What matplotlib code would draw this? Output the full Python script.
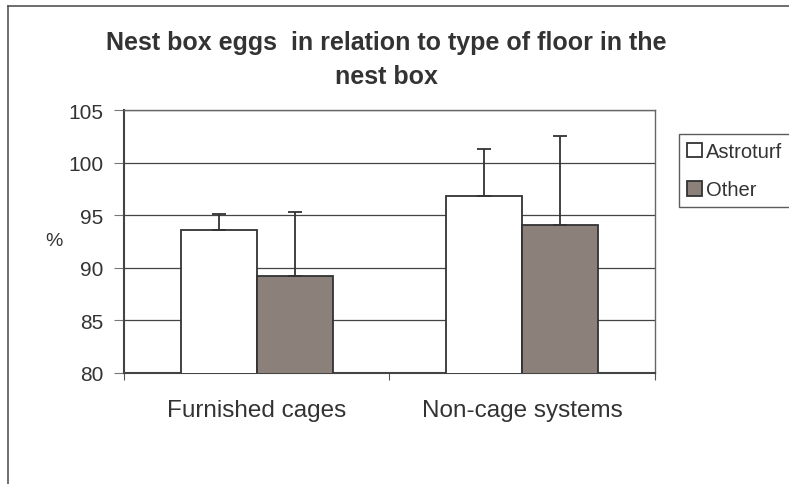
import numpy as np
import matplotlib
matplotlib.use("Agg")
import matplotlib.pyplot as plt
from matplotlib.lines import Line2D

categories = ["Furnished cages", "Non-cage systems"]
astroturf = [93.6, 96.8]
astroturf_err = [1.5, 4.5]
other = [89.2, 94.1]
other_err = [6.1, 8.4]

plt.rcParams["font.family"] = ["Liberation Sans", "DejaVu Sans"]

fig = plt.figure(figsize=(7.89, 4.85), dpi=100)
ax = fig.add_axes([0.157, 0.229, 0.673, 0.542])

# chart border (cropped on right and bottom)
fig.add_artist(Line2D([8 / 789, 8 / 789], [0, 1 - 7 / 485], transform=fig.transFigure,
                      color="#555555", lw=1.2))
fig.add_artist(Line2D([8 / 789, 1], [1 - 7 / 485, 1 - 7 / 485], transform=fig.transFigure,
                      color="#555555", lw=1.2))

x = np.arange(len(categories))
w = 0.286
edge = "#333333"

ax.bar(x - w / 2, astroturf, w, color="white", edgecolor=edge, lw=1.3,
       label="Astroturf", zorder=3)
ax.bar(x + w / 2, other, w, color="#8c807b", edgecolor=edge, lw=1.3,
       label="Other", zorder=3)

ax.errorbar(x - w / 2, astroturf, yerr=[np.zeros(2), astroturf_err], fmt="none",
            ecolor=edge, elinewidth=1.3, capsize=4.7, capthick=1.3, zorder=4)
ax.errorbar(x + w / 2, other, yerr=[np.zeros(2), other_err], fmt="none",
            ecolor=edge, elinewidth=1.3, capsize=4.7, capthick=1.3, zorder=4)

ax.set_ylim(80, 105)
ax.set_xlim(-0.5, 1.5)
ax.set_yticks([80, 85, 90, 95, 100, 105])
ax.yaxis.grid(True, color="#444444", lw=0.9, zorder=0)
ax.set_axisbelow(True)

ax.set_xticks([-0.5, 0.5, 1.5])
ax.set_xticklabels([])
ax.set_xticks(x, minor=True)
ax.set_xticklabels(categories, minor=True, fontsize=17.5, color="#333333")
ax.tick_params(axis="x", which="minor", length=0, pad=19)
ax.tick_params(axis="x", which="major", length=5, color="#555555", direction="out")
ax.tick_params(axis="y", length=7, color="#777777", labelsize=15, labelcolor="#333333", pad=8)

for s in ["left", "bottom"]:
    ax.spines[s].set_color("#444444")
    ax.spines[s].set_linewidth(1.5)
for s in ["top", "right"]:
    ax.spines[s].set_color("#666666")
    ax.spines[s].set_linewidth(1.0)

fig.text(54 / 789, 1 - 242 / 485, "%", ha="center", va="center", fontsize=14,
         color="#333333")

fig.text(386 / 789, 1 - 60 / 485, "Nest box eggs  in relation to type of floor in the\nnest box",
         ha="center", va="center", fontsize=18, fontweight="bold", color="#333333",
         linespacing=1.55)

leg = ax.legend(loc="upper left", bbox_to_anchor=(679 / 789, 1 - 135 / 485),
                bbox_transform=fig.transFigure, frameon=True, fancybox=False,
                fontsize=14.5, handlelength=0.75, handleheight=0.75, handletextpad=0.2,
                borderpad=0.4, labelspacing=0.95, borderaxespad=0)
leg.get_frame().set_edgecolor("#333333")
leg.get_frame().set_linewidth(1.0)
for t in leg.get_texts():
    t.set_color("#333333")

fig.savefig("out.png", dpi=100)
